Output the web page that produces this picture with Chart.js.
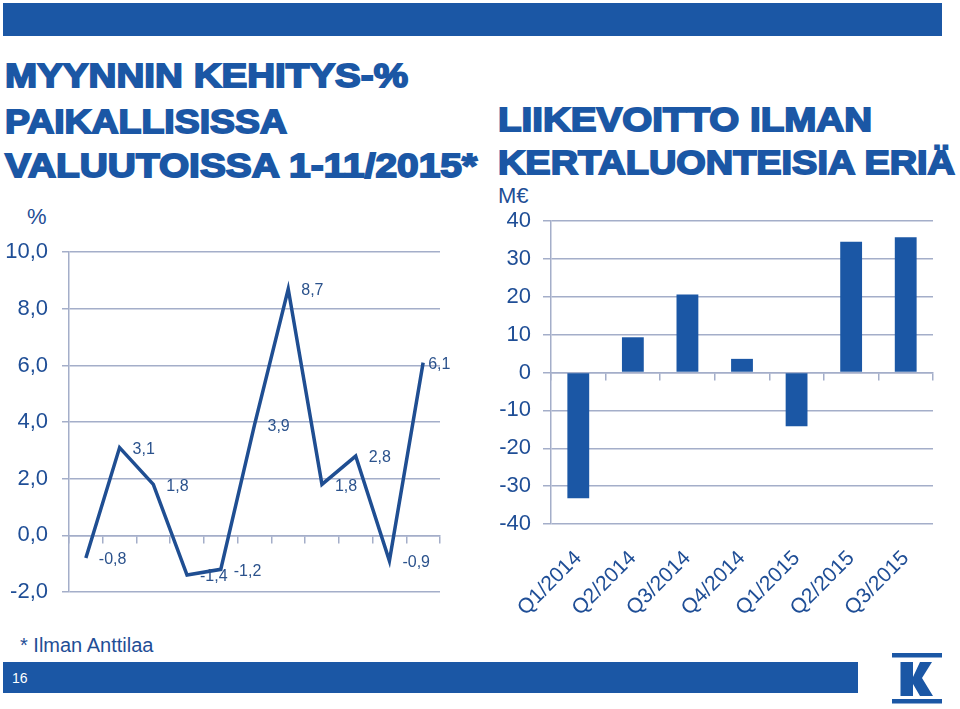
<!DOCTYPE html>
<html>
<head>
<meta charset="utf-8">
<script src="https://cdn.jsdelivr.net/npm/chart.js@4.4.1/dist/chart.umd.min.js"></script>
<style>
  html, body { margin:0; padding:0; background:#fff; }
  body { width:960px; height:709px; position:relative; overflow:hidden; font-family:'Liberation Sans', Arial, sans-serif; }
  .bar { position:absolute; background:#1B57A5; }
  .title { position:absolute; white-space:nowrap; font-family:'Liberation Sans', Arial, sans-serif; font-weight:bold;
           font-size:34px; line-height:34px; color:#1B57A5; -webkit-text-stroke:1.8px #1B57A5; transform-origin:0 0; }
  .unit { position:absolute; font-size:22px; line-height:22px; color:#1F4E96; white-space:nowrap; }
  canvas { position:absolute; }
</style>
</head>
<body>
<div class="bar" style="left:3px; top:3px; width:939px; height:33px;"></div>

<div class="title" data-w="403" style="left:5px; top:58px;">MYYNNIN KEHITYS-%</div>
<div class="title" data-w="282" style="left:5px; top:104px;">PAIKALLISISSA</div>
<div class="title" data-w="472" style="left:5px; top:148px;">VALUUTOISSA 1-11/2015*</div>

<div class="title" data-w="374" style="left:498px; top:102px;">LIIKEVOITTO ILMAN</div>
<div class="title" data-w="457" style="left:498px; top:145px;">KERTALUONTEISIA ERIÄ</div>

<div class="unit" style="left:27px; top:206px;">%</div>
<div class="unit" style="left:498px; top:185px;">M€</div>

<canvas id="left" width="470" height="400" style="left:0px; top:225px;"></canvas>
<canvas id="right" width="470" height="440" style="left:480px; top:190px;"></canvas>

<div style="position:absolute; left:20px; top:634px; font-size:20px; line-height:22px; color:#1F4E96;">* Ilman Anttilaa</div>
<div class="bar" style="left:3px; top:662px; width:855px; height:31px;"></div>
<div style="position:absolute; left:12px; top:670px; font-size:14px; line-height:16px; color:#fff;">16</div>

<svg style="position:absolute; left:880px; top:645px;" width="70" height="64" viewBox="880 645 70 64">
  <rect x="892" y="653" width="50" height="4.5" fill="#1B57A5"/>
  <rect x="892" y="699" width="50" height="4.5" fill="#1B57A5"/>
  <rect x="900.5" y="662" width="12.5" height="34" fill="#1B57A5"/>
  <polygon points="913,677 920,662 932,662 922,678 933,696 920,696 913,684" fill="#1B57A5"/>
</svg>

<script>
// ---- data ----
const months = ['1', '2', '3', '4', '5', '6', '7', '8', '9', '10', '11'];
const salesGrowth = [-0.8, 3.1, 1.8, -1.4, -1.2, 3.9, 8.7, 1.8, 2.8, -0.9, 6.1];
const growthAxis = { min: -2, max: 10, step: 2 };

const quarters = ['Q1/2014', 'Q2/2014', 'Q3/2014', 'Q4/2014', 'Q1/2015', 'Q2/2015', 'Q3/2015'];
const operatingProfit = [-33.2, 9.3, 20.6, 3.6, -14.2, 34.5, 35.7];
const profitAxis = { min: -40, max: 40, step: 10 };

// ---- title width fitting ----
document.querySelectorAll('.title').forEach(el => {
  const target = parseFloat(el.dataset.w);
  const w = el.getBoundingClientRect().width;
  el.style.transform = 'scaleX(' + (target / w) + ')';
});

const FONT = "'Liberation Sans', Arial, sans-serif";
const GRID = '#A4AEC9';
const TICKCOL = '#1F4E96';
const BLUE = '#1B57A5';
Chart.defaults.font.family = FONT;

const fmt = v => v.toFixed(1).replace('.', ',');

const pointLabels = {
  id: 'pointLabels',
  afterDatasetsDraw(chart) {
    const ctx = chart.ctx;
    const meta = chart.getDatasetMeta(0);
    const data = chart.data.datasets[0].data;
    ctx.save();
    ctx.font = '16px ' + FONT;
    ctx.fillStyle = '#2B528C';
    ctx.textAlign = 'left';
    ctx.textBaseline = 'middle';
    meta.data.forEach((pt, i) => {
      const dx = (i === data.length - 1) ? 5 : 13;
      ctx.fillText(fmt(data[i]), pt.x + dx, pt.y + 2);
    });
    ctx.restore();
  }
};

new Chart(document.getElementById('left'), {
  type: 'line',
  data: {
    labels: months,
    datasets: [{
      data: salesGrowth,
      borderColor: '#1F4E92',
      borderWidth: 3.5,
      pointRadius: 0,
      tension: 0,
      fill: false
    }]
  },
  options: {
    responsive: false,
    animation: false,
    layout: { padding: { top: 20, right: 30, bottom: 33, left: 0 } },
    plugins: { legend: { display: false }, tooltip: { enabled: false } },
    scales: {
      x: {
        type: 'category',
        position: { y: 0 },
        offset: true,
        grid: { display: true, drawOnChartArea: false, drawTicks: true, tickLength: 7, offset: true, color: GRID, lineWidth: 1.5 },
        border: { display: true, color: GRID, width: 1.5 },
        ticks: { display: false }
      },
      y: {
        min: growthAxis.min, max: growthAxis.max,
        ticks: { stepSize: growthAxis.step, callback: v => fmt(v), font: { size: 22 }, color: TICKCOL, padding: 14 },
        grid: { color: GRID, lineWidth: 1.5, tickLength: 7 },
        border: { color: GRID, width: 1.5 },
        afterFit(s) { s.width = 69; }
      }
    }
  },
  plugins: [pointLabels]
});

new Chart(document.getElementById('right'), {
  type: 'bar',
  data: {
    labels: quarters,
    datasets: [{
      data: operatingProfit,
      backgroundColor: BLUE,
      borderWidth: 0,
      barPercentage: 0.4,
      categoryPercentage: 1.0
    }]
  },
  options: {
    responsive: false,
    animation: false,
    layout: { padding: { top: 31, right: 17, bottom: 0, left: 0 } },
    plugins: { legend: { display: false }, tooltip: { enabled: false } },
    scales: {
      x: {
        type: 'category',
        position: { y: 0 },
        offset: true,
        grid: { display: true, drawOnChartArea: false, drawTicks: true, tickLength: 7, offset: true, color: GRID, lineWidth: 1.5 },
        border: { display: true, color: GRID, width: 1.5 },
        ticks: { display: false }
      },
      xLabels: {
        type: 'category',
        position: 'bottom',
        offset: true,
        grid: { display: false, drawTicks: false },
        border: { display: false },
        ticks: { autoSkip: false, maxRotation: 45, minRotation: 45, font: { size: 21 }, color: TICKCOL, padding: 22 },
        afterFit(s) { s.height = 106; }
      },
      y: {
        min: profitAxis.min, max: profitAxis.max,
        ticks: { stepSize: profitAxis.step, font: { size: 22 }, color: TICKCOL, padding: 12 },
        grid: { color: GRID, lineWidth: 1.5, tickLength: 8 },
        border: { color: GRID, width: 1.5 },
        afterFit(s) { s.width = 71; }
      }
    }
  }
});
</script>
</body>
</html>
